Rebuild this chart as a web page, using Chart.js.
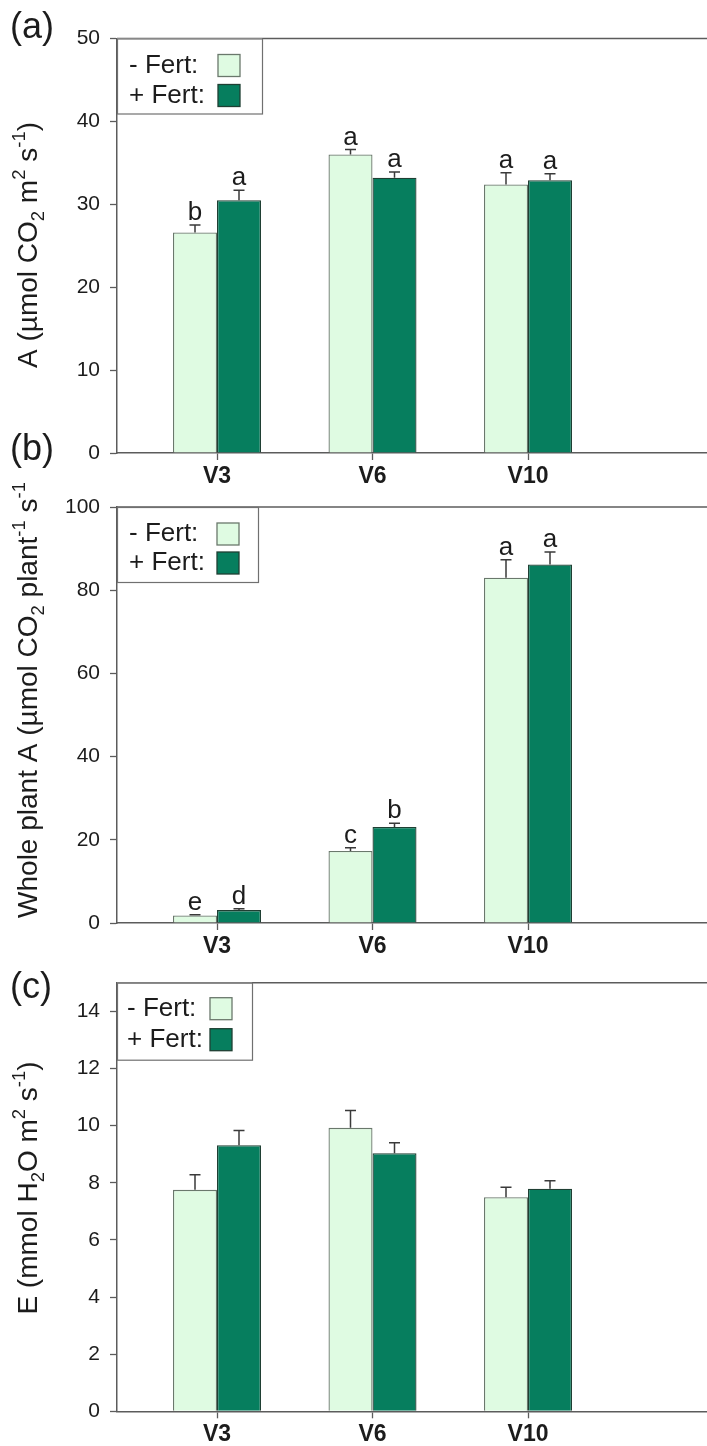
<!DOCTYPE html>
<html>
<head>
<meta charset="utf-8">
<script src="https://cdn.jsdelivr.net/npm/chart.js@4.4.1/dist/chart.umd.min.js"></script>
<style>
  html, body { margin: 0; padding: 0; background: #fff; }
  body { width: 707px; height: 1446px; position: relative; overflow: hidden; }
  canvas { position: absolute; left: 0; }
</style>
</head>
<body>
<canvas id="chartA" width="707" height="490" style="top:0px"></canvas>
<canvas id="chartB" width="707" height="540" style="top:430px"></canvas>
<canvas id="chartC" width="707" height="486" style="top:960px"></canvas>
<script>
// Growth stages and treatments
const stages = ['V3', 'V6', 'V10'];
const treatments = ['- Fert:', '+ Fert:'];

// (a) Leaf net CO2 assimilation, µmol CO2 m-2 s-1
const leafA_noFert = [26.6, 36.0, 32.4];
const leafA_noFert_se = [0.9, 0.6, 1.4];
const leafA_fert = [30.5, 33.2, 32.9];
const leafA_fert_se = [1.2, 0.7, 0.8];
const leafA_noFert_groups = ['b', 'a', 'a'];
const leafA_fert_groups = ['a', 'a', 'a'];
const leafA_ticks = [0, 10, 20, 30, 40, 50];

// (b) Whole plant assimilation, µmol CO2 plant-1 s-1
const plantA_noFert = [1.8, 17.3, 83.0];
const plantA_noFert_se = [0.2, 0.8, 4.3];
const plantA_fert = [3.1, 23.1, 86.2];
const plantA_fert_se = [0.3, 0.9, 3.0];
const plantA_noFert_groups = ['e', 'c', 'a'];
const plantA_fert_groups = ['d', 'b', 'a'];
const plantA_ticks = [0, 20, 40, 60, 80, 100];

// (c) Transpiration, mmol H2O m-2 s-1
const trans_noFert = [7.75, 9.92, 7.49];
const trans_noFert_se = [0.53, 0.61, 0.35];
const trans_fert = [9.31, 9.03, 7.79];
const trans_fert_se = [0.52, 0.37, 0.28];
const trans_ticks = [0, 2, 4, 6, 8, 10, 12, 14];

const FONT = '"Liberation Sans", Arial, Helvetica, sans-serif';
const LIGHT_FILL = '#dffbe2';
const LIGHT_EDGE = '#6a786c';
const DARK_FILL = '#067e5e';
const DARK_EDGE = '#1f3f33';
const AXIS = '#5c5c5c';
const TEXT = '#1c1c1c';

// draw a string made of normal / subscript / superscript runs, centred at (cx, cy)
function drawRuns(ctx, runs, cx, cy, size, vertical) {
  const small = size * 0.66;
  let total = 0;
  runs.forEach(r => {
    ctx.font = (r[1] === 'n' ? size : small) + 'px ' + FONT;
    total += ctx.measureText(r[0]).width;
  });
  ctx.save();
  ctx.translate(cx, cy);
  if (vertical) ctx.rotate(-Math.PI / 2);
  ctx.fillStyle = TEXT;
  ctx.textAlign = 'left';
  ctx.textBaseline = 'alphabetic';
  let x = -total / 2;
  const base = size * 0.36;
  runs.forEach(r => {
    const s = r[1] === 'n' ? size : small;
    ctx.font = s + 'px ' + FONT;
    let dy = 0;
    if (r[1] === 'sub') dy = size * 0.24;
    if (r[1] === 'sup') dy = -size * 0.42;
    ctx.fillText(r[0], x, base + dy);
    x += ctx.measureText(r[0]).width;
  });
  ctx.restore();
}

const panelDeco = {
  id: 'panelDeco',
  afterDatasetsDraw(chart, args, o) {
    const ctx = chart.ctx;
    const area = chart.chartArea;
    const yScale = chart.scales.y;

    // error bars and group letters
    chart.data.datasets.forEach((ds, di) => {
      const meta = chart.getDatasetMeta(di);
      meta.data.forEach((bar, i) => {
        const v = ds.data[i].y;
        const capY = yScale.getPixelForValue(v + ds.errors[i]);
        ctx.save();
        ctx.strokeStyle = '#3a3a3a';
        ctx.lineWidth = 1.5;
        ctx.beginPath();
        ctx.moveTo(bar.x, bar.y);
        ctx.lineTo(bar.x, capY);
        ctx.moveTo(bar.x - 5.5, capY);
        ctx.lineTo(bar.x + 5.5, capY);
        ctx.stroke();
        if (ds.groups) {
          ctx.fillStyle = TEXT;
          ctx.font = '26px ' + FONT;
          ctx.textAlign = 'center';
          ctx.textBaseline = 'alphabetic';
          ctx.fillText(ds.groups[i], bar.x, capY - 5);
        }
        ctx.restore();
      });
    });

    // top frame line
    ctx.save();
    ctx.strokeStyle = AXIS;
    ctx.lineWidth = 1.5;
    ctx.beginPath();
    ctx.moveTo(area.left, area.top);
    ctx.lineTo(chart.width, area.top);
    ctx.stroke();

    // legend box in the upper-left corner of the plot
    const L = o.legend;
    const lx = area.left, ly = area.top;
    ctx.fillStyle = '#fff';
    ctx.fillRect(lx, ly, L.w, L.h);
    ctx.strokeStyle = '#707070';
    ctx.lineWidth = 1.2;
    ctx.strokeRect(lx + 0.5, ly + 0.5, L.w, L.h);
    ctx.font = L.font + 'px ' + FONT;
    ctx.textAlign = 'left';
    ctx.textBaseline = 'middle';
    chart.data.datasets.forEach((ds, di) => {
      const rowY = ly + L.rows[di];
      ctx.fillStyle = TEXT;
      ctx.fillText(ds.label, lx + L.textX, rowY);
      ctx.fillStyle = ds.backgroundColor;
      ctx.strokeStyle = ds.borderColor;
      ctx.lineWidth = 1.3;
      ctx.fillRect(lx + L.boxX, rowY - 11, 22, 22);
      ctx.strokeRect(lx + L.boxX, rowY - 11, 22, 22);
    });

    // panel tag
    ctx.fillStyle = TEXT;
    ctx.font = '36px ' + FONT;
    ctx.textAlign = 'left';
    ctx.textBaseline = 'middle';
    ctx.fillText(o.tag, 10, o.tagY);
    ctx.restore();

    // y-axis title
    drawRuns(ctx, o.title, 27, o.titleY, o.titleSize, true);
  }
};

function makeChart(id, cfg) {
  const canvas = document.getElementById(id);
  const H = canvas.height;
  const xStep = 155.5;           // px between stage centres
  const leftGap = 100;           // px from the y axis to the first stage
  const xMin = 1 - leftGap / xStep;
  const xMax = 3 + (707 - 117 - leftGap - 2 * xStep) / xStep;

  return new Chart(canvas, {
    type: 'bar',
    data: {
      datasets: [
        {
          label: treatments[0],
          data: stages.map((s, i) => ({ x: i + 1, y: cfg.series[0][i] })),
          errors: cfg.errors[0],
          groups: cfg.groups ? cfg.groups[0] : null,
          backgroundColor: LIGHT_FILL,
          borderColor: LIGHT_EDGE,
          borderWidth: 1.3,
          borderSkipped: 'bottom'
        },
        {
          label: treatments[1],
          data: stages.map((s, i) => ({ x: i + 1, y: cfg.series[1][i] })),
          errors: cfg.errors[1],
          groups: cfg.groups ? cfg.groups[1] : null,
          backgroundColor: DARK_FILL,
          borderColor: DARK_EDGE,
          borderWidth: 1.3,
          borderSkipped: 'bottom'
        }
      ]
    },
    options: {
      responsive: false,
      animation: false,
      events: [],
      layout: { padding: { top: cfg.top, bottom: 0, left: 0, right: 0 } },
      datasets: { bar: { categoryPercentage: 88 / 155.5, barPercentage: 1.0, grouped: true } },
      scales: {
        x: {
          type: 'linear',
          min: xMin,
          max: xMax,
          offset: false,
          afterBuildTicks: s => { s.ticks = stages.map((st, i) => ({ value: i + 1 })); },
          afterFit: s => { s.height = H - cfg.bottom; },
          border: { color: AXIS, width: 1.5 },
          grid: { display: true, offset: false, drawOnChartArea: false, drawTicks: true, tickLength: 7, tickColor: AXIS, tickWidth: 1.3 },
          ticks: {
            autoSkip: false, maxRotation: 0, padding: 3,
            color: TEXT,
            font: { family: FONT, size: 23, weight: 'bold' },
            callback: v => stages[Math.round(v) - 1]
          }
        },
        y: {
          min: 0,
          max: cfg.max,
          afterBuildTicks: s => { s.ticks = cfg.ticks.map(v => ({ value: v })); },
          afterFit: s => { s.width = 117; },
          border: { color: AXIS, width: 1.5 },
          grid: { display: true, offset: false, drawOnChartArea: false, drawTicks: true, tickLength: 7, tickColor: AXIS, tickWidth: 1.3 },
          ticks: { padding: 10, color: TEXT, font: { family: FONT, size: 21 } }
        }
      },
      plugins: {
        legend: { display: false },
        tooltip: { enabled: false },
        panelDeco: cfg.deco
      }
    },
    plugins: [panelDeco]
  });
}

makeChart('chartA', {
  series: [leafA_noFert, leafA_fert],
  errors: [leafA_noFert_se, leafA_fert_se],
  groups: [leafA_noFert_groups, leafA_fert_groups],
  ticks: leafA_ticks, max: 50,
  top: 38.5, bottom: 453,
  deco: {
    tag: '(a)', tagY: 28,
    title: [['A (µmol CO', 'n'], ['2', 'sub'], [' m', 'n'], ['2', 'sup'], [' s', 'n'], ['-1', 'sup'], [')', 'n']],
    titleY: 245, titleSize: 28,
    legend: { w: 145, h: 75, font: 26, textX: 12, boxX: 101, rows: [27, 57] }
  }
});

makeChart('chartB', {
  series: [plantA_noFert, plantA_fert],
  errors: [plantA_noFert_se, plantA_fert_se],
  groups: [plantA_noFert_groups, plantA_fert_groups],
  ticks: plantA_ticks, max: 100,
  top: 77, bottom: 493,
  deco: {
    tag: '(b)', tagY: 20,
    title: [['Whole plant A (µmol CO', 'n'], ['2', 'sub'], [' plant', 'n'], ['-1', 'sup'], [' s', 'n'], ['-1', 'sup']],
    titleY: 270, titleSize: 28,
    legend: { w: 141, h: 75, font: 26, textX: 12, boxX: 100, rows: [27, 56] }
  }
});

makeChart('chartC', {
  series: [trans_noFert, trans_fert],
  errors: [trans_noFert_se, trans_fert_se],
  groups: null,
  ticks: trans_ticks, max: 15,
  top: 22.7, bottom: 451.3,
  deco: {
    tag: '(c)', tagY: 28,
    title: [['E (mmol H', 'n'], ['2', 'sub'], ['O m', 'n'], ['2', 'sup'], [' s', 'n'], ['-1', 'sup'], [')', 'n']],
    titleY: 228, titleSize: 28,
    legend: { w: 135, h: 77, font: 26, textX: 10, boxX: 93, rows: [26, 57] }
  }
});
</script>
</body>
</html>
